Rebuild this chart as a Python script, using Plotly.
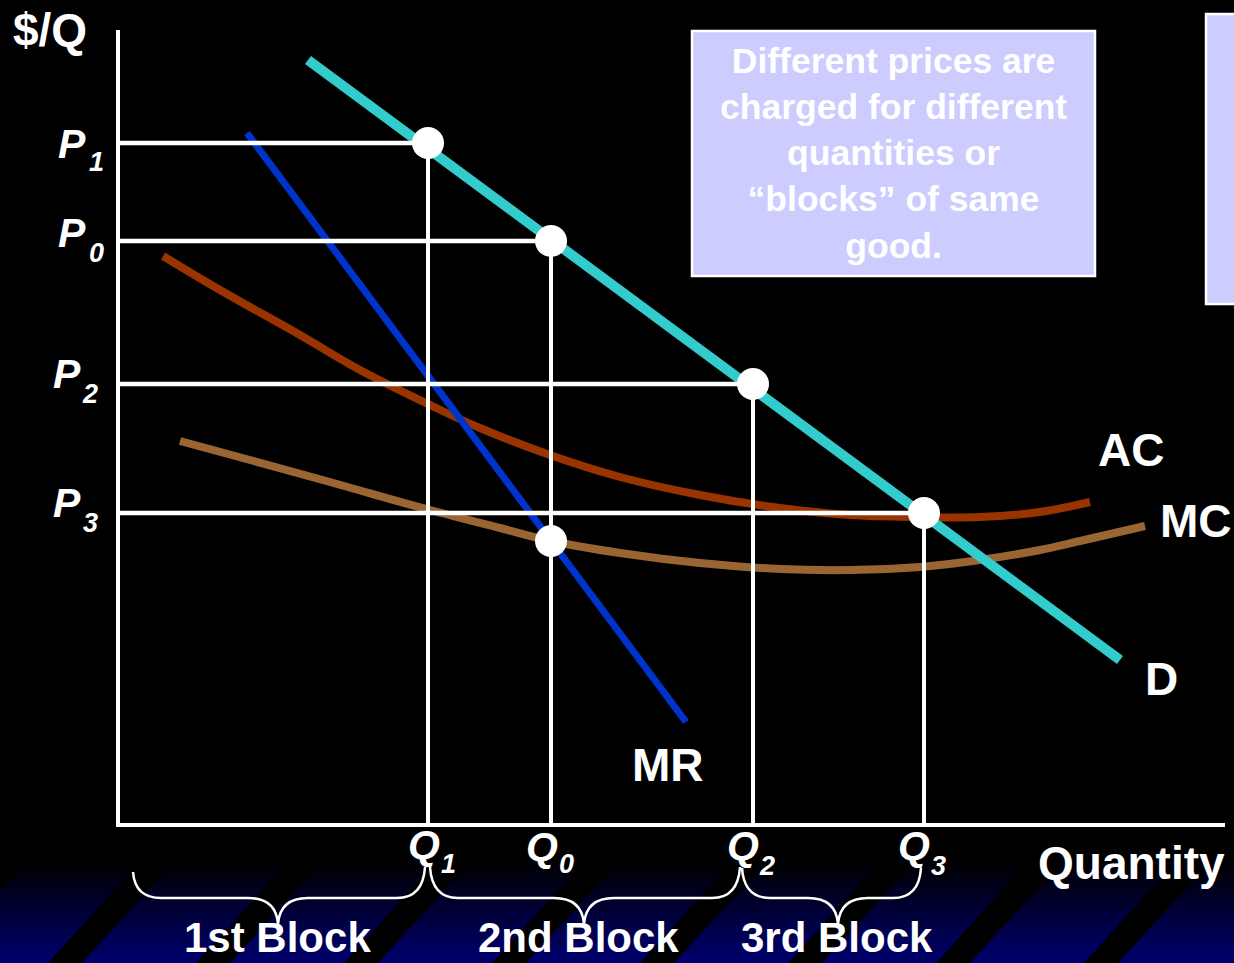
import plotly.graph_objects as go

# ---- price / quantity levels (units: Q on the x axis, $/Q on the y axis) ----
price_labels = ["1", "0", "2", "3"]
prices = [68.2, 58.4, 44.1, 31.2]          # P1, P0, P2, P3
qty_labels = ["1", "0", "2", "3"]
quantities = [31.0, 43.3, 63.5, 80.6]      # Q1, Q0, Q2, Q3

# demand curve (straight line)
demand_q = [19.0, 100.2]
demand_p = [76.5, 16.5]

# marginal revenue (straight line)
mr_q = [12.9, 56.8]
mr_p = [69.2, 10.3]

# average cost
ac_q = [4.5, 10.2, 18.2, 24.2, 31.2, 36.2, 43.2, 50.2, 58.2, 66.2, 73.2, 80.2, 86.2, 92.2, 97.2]
ac_p = [56.9, 53.5, 49.0, 45.5, 42.0, 39.7, 37.0, 34.8, 33.0, 31.7, 31.0, 30.8, 30.8, 31.3, 32.3]

# marginal cost
mc_q = [6.2, 13.2, 21.2, 31.2, 38.2, 43.3, 50.2, 58.2, 66.2, 73.2, 80.2, 86.2, 92.2, 96.2, 102.7]
mc_p = [38.4, 36.5, 34.3, 31.5, 29.7, 28.4, 27.2, 26.2, 25.6, 25.5, 25.8, 26.5, 27.5, 28.4, 29.9]

# MR = MC at Q0
mrmc_q = [43.3]
mrmc_p = [28.4]

block_labels = ["1st Block", "2nd Block", "3rd Block"]

W, H = 1234, 963
FONT = "Arial, Liberation Sans, sans-serif"
WHITE = "#FFFFFF"


# screen-pixel helpers for layout placement
def dx(x):
    return (x - 118) / 10


def dy(y):
    return (825 - y) / 10


def pxp(x):
    return x / W


def pyp(y):
    return 1 - y / H


fig = go.Figure()

# cost and revenue curves
fig.add_trace(go.Scatter(x=ac_q, y=ac_p, mode="lines", line=dict(color="#993300", width=8, shape="spline")))
fig.add_trace(go.Scatter(x=mc_q, y=mc_p, mode="lines", line=dict(color="#996633", width=8, shape="spline")))
fig.add_trace(go.Scatter(x=mr_q, y=mr_p, mode="lines", line=dict(color="#0033CC", width=7)))
fig.add_trace(go.Scatter(x=demand_q, y=demand_p, mode="lines", line=dict(color="#33CCCC", width=10)))

# guide lines from the price and quantity levels
for q, p in zip(quantities, prices):
    fig.add_trace(go.Scatter(x=[0, q], y=[p, p], mode="lines", line=dict(color=WHITE, width=4.5)))
    fig.add_trace(go.Scatter(x=[q, q], y=[p, 0], mode="lines", line=dict(color=WHITE, width=4)))

# axes
fig.add_trace(go.Scatter(x=[0, 0, dx(1225)], y=[dy(30), 0, 0], mode="lines",
                         line=dict(color=WHITE, width=4)))

# points on the demand curve and MR = MC
fig.add_trace(go.Scatter(x=quantities + mrmc_q, y=prices + mrmc_p, mode="markers",
                         marker=dict(color=WHITE, size=32, line=dict(width=0))))

shapes = []

# bottom band: vertical gradient black -> navy
y0, y1, n = 862, 963, 30
for i in range(n):
    t = (i + 0.5) / n
    b = int(round(112 * t))
    ya = y0 + (y1 - y0) * i / n
    yb = y0 + (y1 - y0) * (i + 1) / n + 0.6
    shapes.append(dict(type="rect", xref="paper", yref="paper", x0=0, x1=1,
                       y0=pyp(yb), y1=pyp(ya), fillcolor=f"rgb(0,0,{b})",
                       line=dict(width=0), layer="below"))

# diagonal black stripes across the band
for k in range(-1, 9):
    xb = 48 + 148 * k
    pts = [(xb, 963), (xb + 34, 963), (xb + 34 + 92, 862), (xb + 92, 862)]
    path = "M " + " L ".join(f"{pxp(a):.5f},{pyp(c):.5f}" for a, c in pts) + " Z"
    shapes.append(dict(type="path", xref="paper", yref="paper", path=path,
                       fillcolor="#000000", line=dict(width=0), layer="below"))

# text boxes
shapes.append(dict(type="rect", xref="paper", yref="paper",
                   x0=pxp(692), x1=pxp(1095), y0=pyp(276), y1=pyp(31),
                   fillcolor="#CCCCFF", line=dict(color=WHITE, width=2.5), layer="below"))
shapes.append(dict(type="rect", xref="paper", yref="paper",
                   x0=pxp(1206), x1=pxp(1245), y0=pyp(304), y1=pyp(14),
                   fillcolor="#CCCCFF", line=dict(color=WHITE, width=2.5), layer="below"))


# curly braces under the quantity axis
def brace(xl, yl, xr, yr, xc, ymid, ytip):
    p = f"M {pxp(xl):.5f},{pyp(yl):.5f} " \
        f"Q {pxp(xl + 2):.5f},{pyp(ymid):.5f} {pxp(xl + 28):.5f},{pyp(ymid):.5f} " \
        f"L {pxp(xc - 30):.5f},{pyp(ymid):.5f} " \
        f"Q {pxp(xc - 2):.5f},{pyp(ymid):.5f} {pxp(xc):.5f},{pyp(ytip):.5f} " \
        f"Q {pxp(xc + 2):.5f},{pyp(ymid):.5f} {pxp(xc + 30):.5f},{pyp(ymid):.5f} " \
        f"L {pxp(xr - 28):.5f},{pyp(ymid):.5f} " \
        f"Q {pxp(xr - 2):.5f},{pyp(ymid):.5f} {pxp(xr):.5f},{pyp(yr):.5f}"
    return dict(type="path", xref="paper", yref="paper", path=p,
                line=dict(color=WHITE, width=2.5), layer="above")


shapes.append(brace(133, 872, 425, 867, 278, 898, 924))
shapes.append(brace(430, 867, 740, 867, 584, 898, 924))
shapes.append(brace(742, 868, 921, 868, 838, 898, 924))

annotations = []


def label(text, x, y, size, italic=False, xanchor="center"):
    t = f"<b>{text}</b>"
    if italic:
        t = f"<b><i>{text}</i></b>"
    annotations.append(dict(text=t, x=x, y=y, xref="x", yref="y", showarrow=False,
                            xanchor=xanchor, yanchor="middle",
                            font=dict(family=FONT, size=size, color=WHITE)))


label("$/Q", dx(50), dy(30), 46)

# price labels
p_pos = [(72, 144, 96, 162), (72, 233, 96, 253), (67, 374, 90, 394), (67, 503, 90, 523)]
for s, (xa, ya, xs, ys) in zip(price_labels, p_pos):
    label("P", dx(xa), dy(ya), 41, italic=True)
    label(s, dx(xs), dy(ys), 27, italic=True)

# quantity labels
q_pos = [(424, 845, 448, 864), (542, 847, 566, 864), (743, 846, 767, 866), (914, 846, 938, 866)]
for s, (xa, ya, xs, ys) in zip(qty_labels, q_pos):
    label("Q", dx(xa), dy(ya), 41, italic=True)
    label(s, dx(xs), dy(ys), 27, italic=True)

label("AC", dx(1131), dy(450), 46)
label("MC", dx(1196), dy(521), 46)
label("D", dx(1161), dy(679), 46)
label("MR", dx(668), dy(765), 46)
label("Quantity", dx(1131), dy(863), 46)

for s, xc in zip(block_labels, [277, 578, 837]):
    label(s, dx(xc), dy(937), 42)

annotations.append(dict(
    text="<b>Different prices are<br>charged for different<br>quantities or<br>"
         "\u201cblocks\u201d of same<br>good.</b>",
    x=dx(893), y=dy(153), xref="x", yref="y", showarrow=False,
    xanchor="center", yanchor="middle", align="center",
    font=dict(family=FONT, size=35.5, color=WHITE)))

fig.update_layout(
    width=W, height=H, autosize=False,
    margin=dict(l=0, r=0, t=0, b=0, pad=0),
    paper_bgcolor="#000000", plot_bgcolor="#000000",
    showlegend=False,
    xaxis=dict(range=[dx(0), dx(W)], visible=False, fixedrange=True),
    yaxis=dict(range=[dy(H), dy(0)], visible=False, fixedrange=True),
    shapes=shapes, annotations=annotations,
)

fig.write_html("out.html", config={"displayModeBar": False})
